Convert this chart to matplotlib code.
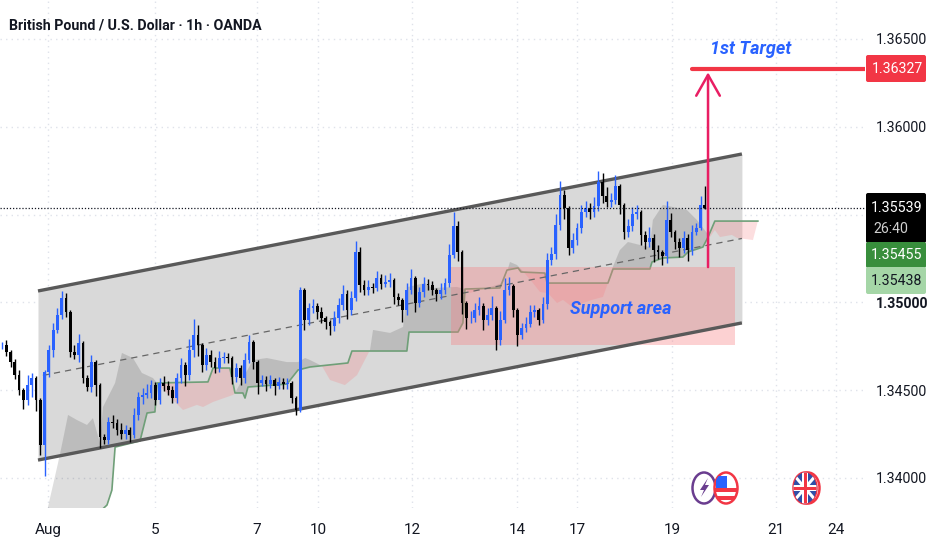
import numpy as np
import matplotlib
matplotlib.use("Agg")
import matplotlib.pyplot as plt
from matplotlib.patches import Ellipse, FancyBboxPatch, Polygon, Rectangle
from matplotlib.transforms import IdentityTransform

W, H = 932, 550
plt.rcParams["font.family"] = ["Roboto", "DejaVu Sans"]

# hourly chart, one candle kept every 2 trading hours
BAR_HOURS = 2
closes = [
    1.34757, 1.34717, 1.34660, 1.34586, 1.34501, 1.34444, 1.34529, 1.34569, 1.34444, 1.34188,
    1.34603, 1.34729, 1.34843, 1.34928, 1.35025, 1.34945, 1.34717, 1.34700, 1.34769, 1.34569,
    1.34518, 1.34660, 1.34529, 1.34233, 1.34216, 1.34319, 1.34313, 1.34273, 1.34250, 1.34273,
    1.34245, 1.34359, 1.34461, 1.34473, 1.34484, 1.34529, 1.34444, 1.34541, 1.34524, 1.34501,
    1.34455, 1.34569, 1.34643, 1.34586, 1.34729, 1.34814, 1.34757, 1.34643, 1.34700, 1.34660,
    1.34626, 1.34683, 1.34689, 1.34683, 1.34575, 1.34626, 1.34569, 1.34672, 1.34774, 1.34660,
    1.34541, 1.34558, 1.34535, 1.34558, 1.34524, 1.34547, 1.34535, 1.34541, 1.34455, 1.34387,
    1.35070, 1.34900, 1.34968, 1.34979, 1.34945, 1.34911, 1.34888, 1.34865, 1.34911, 1.34985,
    1.35048, 1.34957, 1.35025, 1.35287, 1.35099, 1.35070, 1.35088, 1.35082, 1.35139, 1.35105,
    1.35116, 1.35127, 1.35031, 1.35014, 1.34957, 1.35070, 1.35139, 1.34996, 1.35059, 1.35105,
    1.35099, 1.35070, 1.35048, 1.35070, 1.35110, 1.35270, 1.35435, 1.35287, 1.34996, 1.34911,
    1.34911, 1.34957, 1.34979, 1.34900, 1.34928, 1.34968, 1.34786, 1.34900, 1.35070, 1.35093,
    1.34957, 1.34814, 1.34854, 1.34877, 1.34945, 1.34957, 1.34900, 1.34991, 1.35241, 1.35275,
    1.35441, 1.35611, 1.35537, 1.35310, 1.35355, 1.35424, 1.35515, 1.35537, 1.35515, 1.35549,
    1.35686, 1.35606, 1.35572, 1.35583, 1.35663, 1.35554, 1.35401, 1.35435, 1.35503, 1.35515,
    1.35384, 1.35344, 1.35367, 1.35298, 1.35287, 1.35264, 1.35469, 1.35401, 1.35344, 1.35310,
    1.35367, 1.35298, 1.35401, 1.35424, 1.35554, 1.35539,
]
# wick lengths beyond the candle body, in points (0.00001)
upper_wicks = [
    20, 30, 10, 20, 30, 10, 60, 30, 10, 10,
    10, 30, 40, 40, 40, 30, 10, 40, 50, 10,
    20, 40, 10, 10, 20, 30, 40, 20, 40, 30,
    20, 40, 30, 40, 50, 30, 20, 30, 40, 30,
    20, 30, 40, 20, 60, 90, 60, 10, 40, 30,
    30, 40, 30, 20, 10, 30, 20, 40, 40, 10,
    10, 30, 20, 30, 10, 30, 20, 30, 10, 10,
    20, 10, 30, 40, 20, 30, 10, 10, 40, 40,
    50, 20, 40, 60, 30, 30, 40, 20, 40, 20,
    40, 40, 10, 20, 10, 40, 50, 10, 30, 40,
    30, 20, 10, 40, 30, 60, 80, 30, 10, 10,
    40, 40, 50, 20, 40, 70, 10, 50, 70, 50,
    10, 10, 30, 40, 40, 30, 10, 40, 40, 40,
    60, 80, 30, 10, 40, 30, 40, 40, 30, 50,
    60, 50, 50, 40, 60, 10, 10, 40, 40, 40,
    10, 20, 60, 20, 30, 10, 110, 40, 10, 20,
    40, 20, 40, 30, 50, 108,
]
lower_wicks = [
    20, 20, 30, 20, 30, 50, 30, 70, 60, 60,
    177, 30, 40, 20, 20, 30, 30, 20, 40, 30,
    20, 30, 60, 60, 20, 20, 30, 30, 30, 30,
    40, 20, 30, 40, 20, 30, 30, 20, 30, 30,
    30, 30, 30, 60, 30, 40, 60, 40, 30, 30,
    30, 20, 30, 30, 40, 30, 40, 30, 20, 40,
    60, 20, 40, 20, 50, 20, 30, 30, 30, 30,
    10, 60, 30, 30, 40, 30, 40, 50, 30, 30,
    30, 50, 30, 20, 40, 30, 30, 30, 20, 30,
    20, 30, 40, 30, 70, 30, 20, 50, 20, 30,
    30, 30, 40, 30, 20, 20, 20, 50, 60, 60,
    30, 20, 30, 60, 30, 30, 60, 30, 20, 30,
    40, 60, 20, 20, 20, 30, 30, 20, 30, 30,
    30, 30, 60, 40, 30, 30, 30, 30, 40, 30,
    30, 40, 30, 30, 20, 50, 40, 30, 30, 30,
    60, 40, 30, 70, 40, 50, 40, 30, 40, 50,
    30, 60, 30, 20, 10, 10,
]

# baseline of the cloud, green step line
base_hours = [
    21.6, 49.3, 51.6, 53.1, 64.8, 68.1, 71.8, 72.8, 96.7, 99.1, 107.0, 109.4, 113.1, 114.1,
    115.5, 133.8, 139.0, 144.6, 162.4, 164.3, 190.1, 191.1, 214.1, 216.4, 217.4, 233.8, 237.1,
    242.3, 243.7, 254.9, 255.9, 284.5, 286.9, 304.2, 305.2, 310.3, 319.7, 322.1, 329.1, 331.5,
    334.7, 354.9,
]
base_prices = [
    1.33533, 1.33846, 1.33931, 1.34176, 1.34211, 1.34370, 1.34376, 1.34541, 1.34547, 1.34626,
    1.34626, 1.34484, 1.34484, 1.34455, 1.34518, 1.34535, 1.34615, 1.34632, 1.34655, 1.34723,
    1.34723, 1.34831, 1.34831, 1.34883, 1.35076, 1.35082, 1.35184, 1.35196, 1.35173, 1.35167,
    1.35110, 1.35110, 1.35190, 1.35190, 1.35230, 1.35253, 1.35258, 1.35287, 1.35315, 1.35372,
    1.35463, 1.35463,
]
# other edge of the cloud
edge_hours = [
    21.6, 26.3, 28.6, 31.0, 35.2, 39.9, 42.7, 46.0, 47.4, 53.1, 56.3, 61.5, 65.7, 70.9, 72.8,
    80.3, 85.0, 91.5, 94.4, 99.1, 108.5, 109.4, 117.8, 124.4, 133.8, 139.0, 142.3, 144.6, 150.2,
    154.0, 161.0, 166.7, 172.8, 174.2, 182.2, 188.3, 190.6, 198.6, 201.9, 213.6, 217.4, 219.7,
    224.4, 235.2, 236.2, 238.5, 241.8, 244.1, 249.3, 252.6, 256.3, 260.6, 263.4, 267.6, 277.0,
    282.2, 284.5, 286.4, 290.1, 293.9, 299.5, 304.2, 305.6, 310.3, 315.0, 321.6, 326.3, 331.0,
    332.4, 334.7, 337.1, 342.7, 345.1, 352.6, 354.9,
]
edge_prices = [
    1.33835, 1.34085, 1.34216, 1.34359, 1.34330, 1.34302, 1.34341, 1.34199, 1.34404, 1.34541,
    1.34712, 1.34683, 1.34598, 1.34569, 1.34541, 1.34444, 1.34387, 1.34416, 1.34404, 1.34433,
    1.34473, 1.34484, 1.34672, 1.34683, 1.34660, 1.34660, 1.34683, 1.34672, 1.34638, 1.34558,
    1.34529, 1.34586, 1.34729, 1.34843, 1.34826, 1.34860, 1.35088, 1.35110, 1.35082, 1.35088,
    1.35076, 1.35053, 1.35070, 1.35110, 1.35139, 1.35230, 1.35213, 1.35184, 1.35110, 1.35059,
    1.35053, 1.34996, 1.35014, 1.34974, 1.35014, 1.35031, 1.35110, 1.35190, 1.35298, 1.35344,
    1.35327, 1.35315, 1.35469, 1.35555, 1.35543, 1.35526, 1.35469, 1.35395, 1.35372, 1.35412,
    1.35372, 1.35384, 1.35367, 1.35355, 1.35463,
]

# drawings on the chart
channel_hours = [16.9, 347.4]
channel_upper = [1.35065, 1.35845]
channel_lower = [1.34102, 1.34883]
channel_mid_hours = [19.2, 347.4]
channel_mid = [1.34584, 1.35364]
support_hours = [210.8, 344.1]
support_prices = [1.34757, 1.35201]
target_price = 1.36327
target_hours = [324.0, 405.2]
arrow_hour = 331.5
arrow_prices = [1.35201, 1.36310]

y_ticks = [1.34000, 1.34500, 1.35000, 1.35500, 1.36000, 1.36500]
y_labels = ["1.34000", "1.34500", "1.35000", "", "1.36000", "1.36500"]
x_ticks = [21.5, 71.8, 119.7, 148.4, 192.5, 241.8, 270.0, 314.6, 363.4, 391.5]
x_labels = ["Aug", "5", "7", "10", "12", "14", "17", "19", "21", "24"]

BLUE = "#2962ff"
RED = "#f23645"
PINK = "#e91e63"
TEXT = "#131722"
TAG_SIZE = 10.2

closes = np.array(closes)
opens = np.r_[closes[0], closes[:-1]]
highs = np.maximum(opens, closes) + np.array(upper_wicks) / 1e5
lows = np.minimum(opens, closes) - np.array(lower_wicks) / 1e5
hours = np.arange(len(closes)) * BAR_HOURS

fig = plt.figure(figsize=(W / 100, H / 100), dpi=100)
ax = fig.add_axes([0, 42 / H, 865 / W, 508 / H])
ax.set_xlim(-0.94, 405.2)
ax.set_ylim(1.33829, 1.36722)

for side in ax.spines.values():
    side.set_visible(False)
ax.set_xticks(x_ticks, x_labels)
ax.yaxis.tick_right()
ax.set_yticks(y_ticks, y_labels)
ax.tick_params(length=0, labelcolor=TEXT)
ax.tick_params(axis="x", pad=11, labelsize=11)
ax.tick_params(axis="y", pad=8, labelsize=TAG_SIZE)
ax.get_yticklabels()[2].set_fontweight("bold")
ax.grid(True, color="#dfe2ea", linestyle=(0, (1, 3)), linewidth=1)
ax.set_axisbelow(True)

# channel
ax.fill_between(channel_hours, channel_lower, channel_upper, color="#d9d9d9", lw=0, zorder=1)
ax.plot(channel_hours, channel_upper, color="#595959", lw=2.4, solid_capstyle="butt", zorder=6)
ax.plot(channel_hours, channel_lower, color="#595959", lw=2.4, solid_capstyle="butt", zorder=6)
ax.plot(channel_mid_hours, channel_mid, color="#666666", lw=0.9, ls=(0, (5, 4)), zorder=5)

# cloud
cloud_x = np.union1d(base_hours, edge_hours)
cloud_base = np.interp(cloud_x, base_hours, base_prices)
cloud_edge = np.interp(cloud_x, edge_hours, edge_prices)
ax.fill_between(cloud_x, cloud_base, cloud_edge, where=cloud_edge >= cloud_base,
                interpolate=True, color="black", alpha=0.13, lw=0, zorder=2)
ax.fill_between(cloud_x, cloud_base, cloud_edge, where=cloud_edge <= cloud_base,
                interpolate=True, color="#f77c80", alpha=0.25, lw=0, zorder=2)
ax.plot(base_hours, base_prices, color="#6f9f78", lw=1.2, zorder=3)

# support area
ax.add_patch(Rectangle((support_hours[0], support_prices[0]),
                       support_hours[1] - support_hours[0],
                       support_prices[1] - support_prices[0],
                       facecolor="#f77c80", alpha=0.35, lw=0, zorder=4))

# candles
up = closes >= opens
bar_colors = np.where(up, BLUE, "#000000")
ax.vlines(hours, lows, highs, colors=bar_colors, lw=1, zorder=7)
ax.bar(hours, np.maximum(np.abs(closes - opens), 0.00002), bottom=np.minimum(opens, closes),
       width=1.3, color=bar_colors, lw=0, zorder=7)

ax.axhline(closes[-1], color="#131722", lw=0.9, ls=(0, (1, 1.5)), zorder=8)

# target line and arrow
ax.plot(target_hours, [target_price, target_price], color=RED, lw=3, solid_capstyle="round", zorder=9)
ax.annotate("", xy=(arrow_hour, arrow_prices[1]), xytext=(arrow_hour, arrow_prices[0]),
            arrowprops=dict(arrowstyle="->,head_length=1.5,head_width=0.85", color=PINK, lw=1.8,
                            shrinkA=0, shrinkB=0), zorder=9)
ax.text(332.4, 1.36443, "1st Target", color=BLUE, fontsize=13, style="italic", weight="bold",
        ha="left", va="center", zorder=10)
ax.text(266.5, 1.34962, "Support area", color=BLUE, fontsize=13, style="italic", weight="bold",
        ha="left", va="center", zorder=10)


def pixel_text(x, y, text, **kwargs):
    kwargs.setdefault("ha", "center")
    kwargs.setdefault("va", "center")
    fig.text(x, H - y, text, transform=IdentityTransform(), **kwargs)


def tag(top, bottom, color):
    fig.add_artist(FancyBboxPatch((866, H - bottom), 60, bottom - top,
                                  boxstyle="round,pad=0,rounding_size=2", facecolor=color,
                                  edgecolor="none", transform=IdentityTransform(), zorder=5))


pixel_text(9, 26, "British Pound / U.S. Dollar · 1h · OANDA", ha="left", fontsize=10.2,
           weight="bold", color=TEXT)

# price tags at the right side
tag(55, 82, RED)
pixel_text(897, 69, "1.36327", fontsize=TAG_SIZE, color="white", zorder=6)
tag(193, 243, "#000000")
pixel_text(897, 208, "1.35539", fontsize=TAG_SIZE, color="white", zorder=6)
pixel_text(873, 229, "26:40", fontsize=TAG_SIZE, color="#d0d0d0", ha="left", zorder=6)
tag(242, 268, "#388e3c")
pixel_text(897, 255, "1.35455", fontsize=TAG_SIZE, color="white", zorder=6)
tag(267, 294, "#a5d6a7")
pixel_text(897, 281, "1.35438", fontsize=TAG_SIZE, color=TEXT, zorder=6)


# calendar icons
def icon_oval(x, color, rx=11.5, ry=15.5):
    oval = Ellipse((x, H - 488), 2 * rx, 2 * ry, facecolor="white", edgecolor=color, lw=1.8,
                   transform=IdentityTransform(), zorder=5)
    fig.add_artist(oval)
    return oval


def clipped(oval, x, y, w, h, color):
    piece = Rectangle((x, H - y - h), w, h, facecolor=color, edgecolor="none",
                      transform=IdentityTransform(), zorder=6)
    fig.add_artist(piece)
    piece.set_clip_path(oval)


icon_oval(704, "#6a3d8f")
fig.add_artist(Polygon([(708, H - 478), (700, H - 490), (704, H - 490), (701, H - 497),
                        (709, H - 485), (705, H - 485)], closed=True, facecolor="#6a3d8f",
                       edgecolor="none", transform=IdentityTransform(), zorder=6))

us = icon_oval(726, RED)
for stripe_y in (488, 496):
    clipped(us, 714, stripe_y, 24, 4, RED)
clipped(us, 716, 476, 11, 12, "#2962ff")

icon_oval(808, RED)
uk = icon_oval(805, RED)
clipped(uk, 793, 472, 24, 32, "#2f4fa8")
cross_x = [(793, 474), (817, 502)], [(793, 502), (817, 474)]
for pts in cross_x:
    bar = fig.add_artist(plt.Line2D([pts[0][0], pts[1][0]], [H - pts[0][1], H - pts[1][1]],
                                    color="white", lw=2.2, transform=IdentityTransform(), zorder=6))
    bar.set_clip_path(uk)
clipped(uk, 793, 485, 24, 6, "white")
clipped(uk, 802, 472, 6, 32, "white")
clipped(uk, 793, 486.5, 24, 3, RED)
clipped(uk, 803.5, 472, 3, 32, RED)

fig.savefig("out.png", dpi=100)
plt.close(fig)
